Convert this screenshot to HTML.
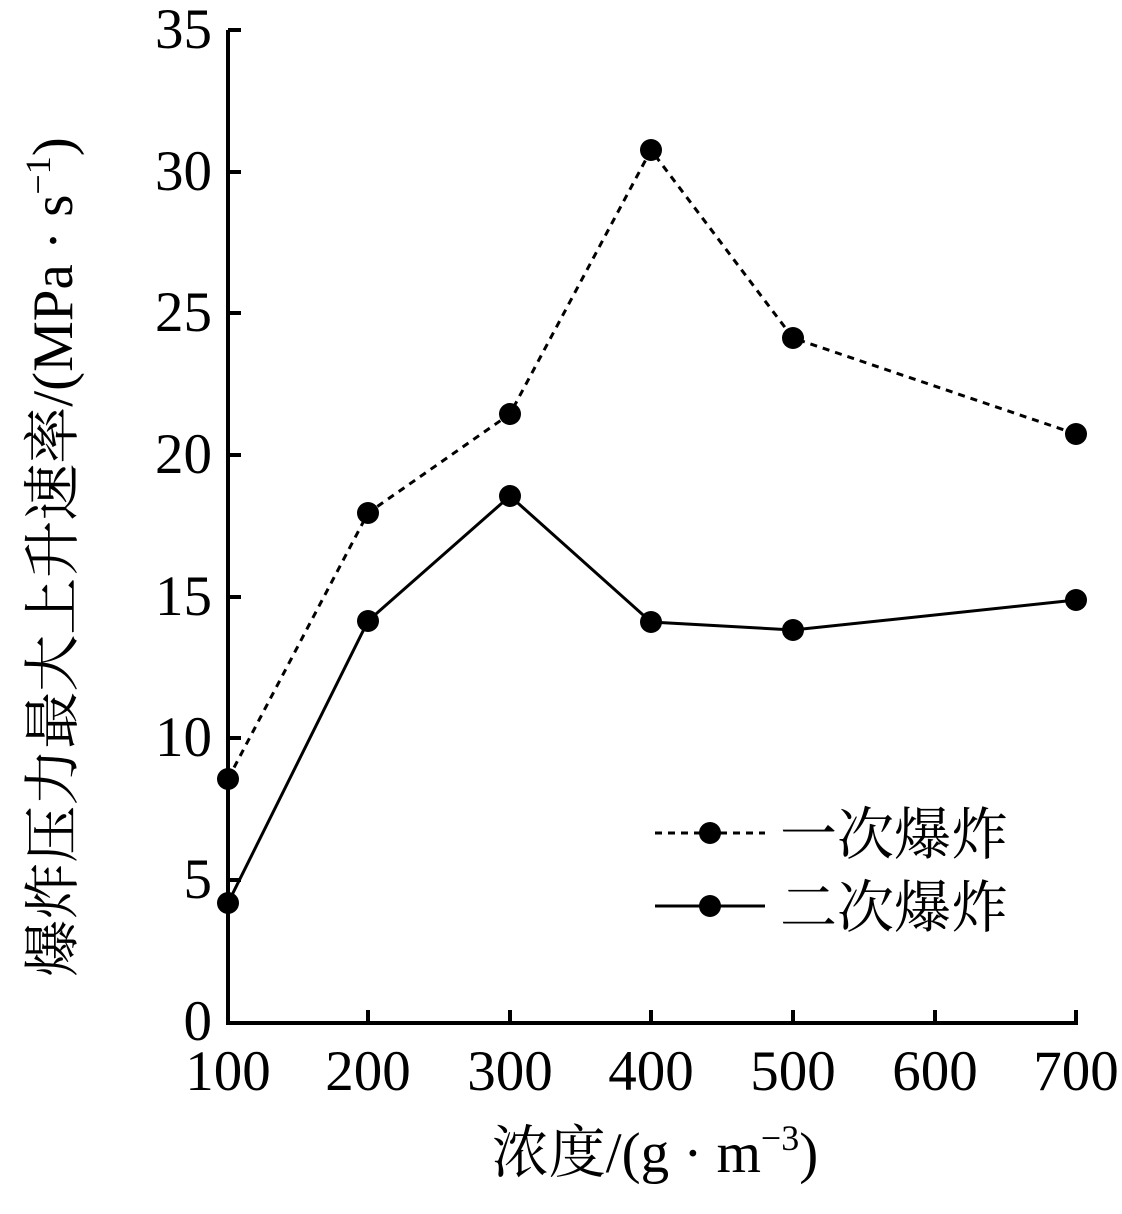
<!DOCTYPE html>
<html><head><meta charset="utf-8"><style>
html,body{margin:0;padding:0;background:#fff;}
svg text{font-family:"Liberation Serif","Noto Serif CJK SC","Noto Sans CJK SC",serif;fill:#000;}
</style></head><body>
<svg width="1122" height="1209" viewBox="0 0 1122 1209" xmlns="http://www.w3.org/2000/svg">
<g stroke="#000" stroke-width="4" fill="none">
<path d="M228 30 V1023 H1078"/>
<path d="M228 30 H241 M228 172 H241 M228 313 H241 M228 455 H241 M228 597 H241 M228 738 H241 M228 880 H241"/>
<path d="M368 1023 V1010 M510 1023 V1010 M651 1023 V1010 M793 1023 V1010 M935 1023 V1010 M1076 1023 V1010"/>
</g>
<g font-size="57" text-anchor="end">
<text x="212" y="48">35</text><text x="212" y="190">30</text><text x="212" y="331">25</text>
<text x="212" y="473">20</text><text x="212" y="615">15</text><text x="212" y="756">10</text>
<text x="212" y="898">5</text><text x="212" y="1040">0</text>
</g>
<g font-size="57" text-anchor="middle">
<text x="228" y="1090">100</text><text x="368" y="1090">200</text><text x="510" y="1090">300</text>
<text x="651" y="1090">400</text><text x="793" y="1090">500</text><text x="935" y="1090">600</text><text x="1076" y="1090">700</text>
</g>
<text x="655" y="1172" font-size="57" text-anchor="middle">浓度/(g · m<tspan font-size="36" dy="-22">−3</tspan><tspan dy="22">)</tspan></text>
<text transform="translate(72,557) rotate(-90)" font-size="57" text-anchor="middle">爆炸压力最大上升速率/(MPa · s<tspan font-size="36" dy="-22">−1</tspan><tspan dy="22">)</tspan></text>
<polyline points="228,779 368,513 510,414 651,150 793,338 1076,434" fill="none" stroke="#000" stroke-width="3" stroke-dasharray="7,6"/>
<polyline points="228,903 368,621 510,496 651,622 793,630 1076,600" fill="none" stroke="#000" stroke-width="3"/>
<g fill="#000">
<circle cx="228" cy="779" r="11"/><circle cx="368" cy="513" r="11"/><circle cx="510" cy="414" r="11"/>
<circle cx="651" cy="150" r="11"/><circle cx="793" cy="338" r="11"/><circle cx="1076" cy="434" r="11"/>
<circle cx="228" cy="903" r="11"/><circle cx="368" cy="621" r="11"/><circle cx="510" cy="496" r="11"/>
<circle cx="651" cy="622" r="11"/><circle cx="793" cy="630" r="11"/><circle cx="1076" cy="600" r="11"/>
<circle cx="710" cy="833" r="11"/><circle cx="710" cy="906" r="11"/>
</g>
<line x1="655" y1="833" x2="765" y2="833" stroke="#000" stroke-width="3" stroke-dasharray="7,6"/>
<line x1="655" y1="906" x2="765" y2="906" stroke="#000" stroke-width="3"/>
<text x="780" y="854" font-size="57">一次爆炸</text>
<text x="780" y="927" font-size="57">二次爆炸</text>
</svg>
</body></html>
